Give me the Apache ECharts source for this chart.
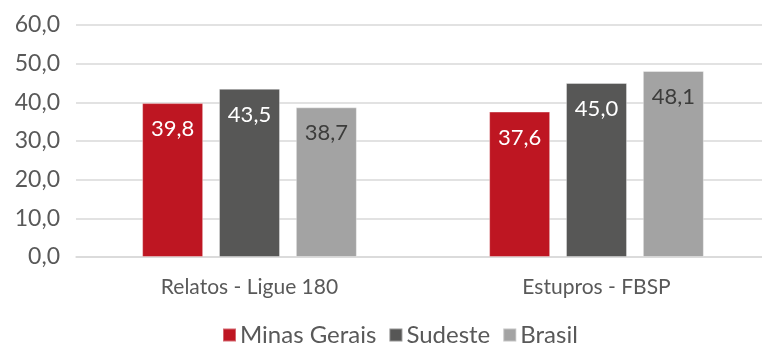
<!DOCTYPE html>
<html>
<head>
<meta charset="utf-8">
<script src="https://cdn.jsdelivr.net/npm/echarts@6/dist/echarts.min.js"></script>
<style>
  html, body { margin: 0; padding: 0; background: #fff; overflow: hidden; }
  /* plot area runs slightly past the right edge of the window */
  #chart { width: 772px; height: 349px; }
</style>
</head>
<body>
<div id="chart"></div>
<script>
// Categories and series values
const categories = ['Relatos - Ligue 180', 'Estupros - FBSP'];
const minasGerais = [39.8, 37.6];
const sudeste = [43.5, 45.0];
const brasil = [38.7, 48.1];
const yTicks = [0, 10, 20, 30, 40, 50, 60];

const FONT = 'Lato';
const fmt = v => v.toFixed(1).replace('.', ',');

function barSeries(name, data, color, labelColor) {
  return {
    name: name,
    type: 'bar',
    data: data,
    barWidth: 61,
    barGap: '26%',
    itemStyle: { color: color, borderColor: 'rgba(255,255,255,0.35)', borderWidth: 1 },
    label: {
      show: true,
      position: 'insideTop',
      distance: 15,
      color: labelColor,
      fontFamily: FONT,
      fontSize: 22,
      formatter: p => fmt(p.value)
    }
  };
}

const chart = echarts.init(document.getElementById('chart'));
chart.setOption({
  animation: false,
  textStyle: { fontFamily: FONT },
  grid: { left: 76, top: 25, width: 694, height: 232 },
  legend: {
    top: 318,
    left: 217,
    itemWidth: 13,
    itemHeight: 13,
    itemGap: 12,
    icon: 'rect',
    textStyle: { color: '#595959', fontSize: 24, fontFamily: FONT, padding: [0, 0, 0, -1] },
    data: ['Minas Gerais', 'Sudeste', 'Brasil']
  },
  xAxis: {
    type: 'category',
    data: categories,
    axisTick: { show: false },
    axisLine: { show: true, lineStyle: { color: '#d9d9d9', width: 1.5 } },
    axisLabel: { color: '#595959', fontSize: 21, fontFamily: FONT, margin: 20 }
  },
  yAxis: {
    type: 'value',
    min: yTicks[0],
    max: yTicks[yTicks.length - 1],
    interval: 10,
    axisLine: { show: false },
    axisTick: { show: false },
    splitLine: { lineStyle: { color: '#d9d9d9', width: 1.5 } },
    axisLabel: { color: '#595959', fontSize: 23, fontFamily: FONT, margin: 16, formatter: v => fmt(v) }
  },
  series: [
    barSeries('Minas Gerais', minasGerais, '#be1622', '#ffffff'),
    barSeries('Sudeste', sudeste, '#575756', '#ffffff'),
    barSeries('Brasil', brasil, '#a3a3a3', '#3c3c3b')
  ]
});
</script>
</body>
</html>
